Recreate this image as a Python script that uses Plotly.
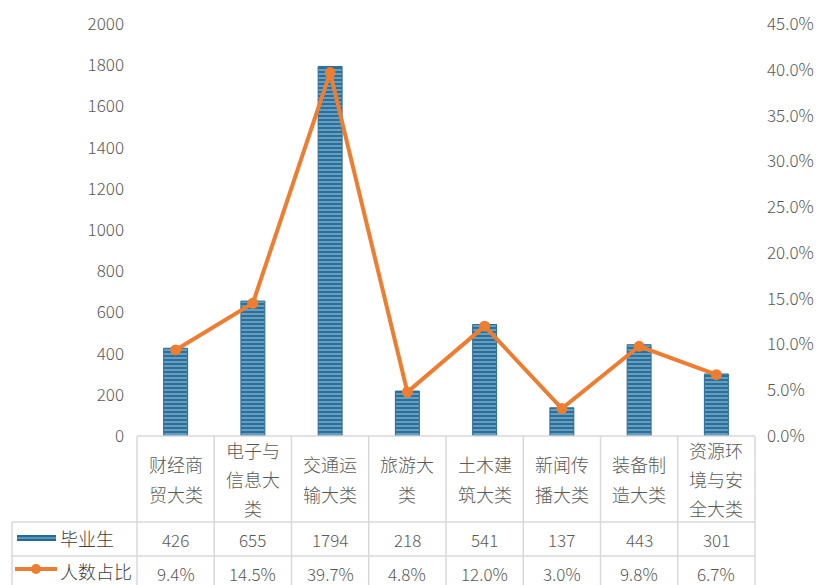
import plotly.graph_objects as go

categories = ["财经商贸大类", "电子与信息大类", "交通运输大类", "旅游大类",
              "土木建筑大类", "新闻传播大类", "装备制造大类", "资源环境与安全大类"]
category_lines = [["财经商", "贸大类"], ["电子与", "信息大", "类"], ["交通运", "输大类"],
                  ["旅游大", "类"], ["土木建", "筑大类"], ["新闻传", "播大类"],
                  ["装备制", "造大类"], ["资源环", "境与安", "全大类"]]
graduates = [426, 655, 1794, 218, 541, 137, 443, 301]
share = [0.094, 0.145, 0.397, 0.048, 0.120, 0.030, 0.098, 0.067]
share_labels = ["9.4%", "14.5%", "39.7%", "4.8%", "12.0%", "3.0%", "9.8%", "6.7%"]
series_names = ["毕业生", "人数占比"]

W, H = 816, 585
L, R, T, B = 137, 61, 24, 149
pw, ph = W - L - R, H - T - B

def py(ypix):
    return (H - B - ypix) / ph

def pxf(xpix):
    return (xpix - L) / pw

BLUE = "#256A94"
ORANGE = "#ED7D31"
GRID = "#D9D9D9"
TXT = "#595959"
FONT = "Noto Sans CJK SC, Noto Sans, sans-serif"
FW = 300

fig = go.Figure()
fig.add_trace(go.Bar(
    x=categories, y=graduates, name=series_names[0], width=0.31,
    marker=dict(color=BLUE, line=dict(color="#2A6C98", width=1),
                pattern=dict(shape="-", fgcolor="#A6D1EC", bgcolor=BLUE, size=4, solidity=0.55)),
    yaxis="y", showlegend=False))
fig.add_trace(go.Scatter(
    x=categories, y=share, name=series_names[1], mode="lines+markers",
    line=dict(color=ORANGE, width=4), marker=dict(color=ORANGE, size=11),
    yaxis="y2", showlegend=False))

n = len(categories)
shapes = []
row1_top, row2_top, bottom = py(522), py(556), py(H + 5)
left_edge = pxf(12)
shapes.append(dict(type="line", xref="paper", yref="paper", x0=0, x1=1, y0=0, y1=0,
                   line=dict(color=GRID, width=1.5)))
for yy in (row1_top, row2_top):
    shapes.append(dict(type="line", xref="paper", yref="paper", x0=left_edge, x1=1, y0=yy, y1=yy,
                       line=dict(color=GRID, width=1.5)))
for i in range(n + 1):
    xx = i / n
    shapes.append(dict(type="line", xref="paper", yref="paper", x0=xx, x1=xx, y0=0, y1=bottom,
                       line=dict(color=GRID, width=1.5)))
shapes.append(dict(type="line", xref="paper", yref="paper", x0=left_edge, x1=left_edge,
                   y0=row1_top, y1=bottom, line=dict(color=GRID, width=1.5)))

ky1 = py(538)
shapes.append(dict(type="rect", xref="paper", yref="paper", x0=pxf(17), x1=pxf(56),
                   y0=ky1 - 3 / ph, y1=ky1 + 3 / ph, fillcolor=BLUE, line=dict(width=0)))
shapes.append(dict(type="line", xref="paper", yref="paper", x0=pxf(17), x1=pxf(56),
                   y0=ky1, y1=ky1, line=dict(color="#8FC0E0", width=1)))
ky2 = py(569)
shapes.append(dict(type="line", xref="paper", yref="paper", x0=pxf(15), x1=pxf(57),
                   y0=ky2, y1=ky2, line=dict(color=ORANGE, width=4)))
shapes.append(dict(type="circle", xref="paper", yref="paper", x0=pxf(31), x1=pxf(41),
                   y0=ky2 - 5 / ph, y1=ky2 + 5 / ph, fillcolor=ORANGE, line=dict(width=0)))

annotations = []
for i, lines in enumerate(category_lines):
    k = len(lines)
    center = 479
    for j, txt in enumerate(lines):
        ypix = center + (j - (k - 1) / 2) * 29
        annotations.append(dict(x=categories[i], xref="x", y=py(ypix), yref="paper",
                                text=txt, showarrow=False, yanchor="middle", xanchor="center",
                                font=dict(size=18, color=TXT, family=FONT, weight=FW)))
    annotations.append(dict(x=categories[i], xref="x", y=py(539), yref="paper",
                            text=str(graduates[i]), showarrow=False, yanchor="middle",
                            font=dict(size=17, color=TXT, family=FONT, weight=FW)))
    annotations.append(dict(x=categories[i], xref="x", y=py(573), yref="paper",
                            text=share_labels[i], showarrow=False, yanchor="middle",
                            font=dict(size=17, color=TXT, family=FONT, weight=FW)))
annotations.append(dict(x=pxf(58), xref="paper", y=py(538), yref="paper", text=series_names[0],
                        showarrow=False, xanchor="left", yanchor="middle",
                        font=dict(size=18, color="#404040", family=FONT, weight=FW)))
annotations.append(dict(x=pxf(58), xref="paper", y=py(571), yref="paper", text=series_names[1],
                        showarrow=False, xanchor="left", yanchor="middle",
                        font=dict(size=18, color="#404040", family=FONT, weight=FW)))

fig.update_layout(
    width=W, height=H, margin=dict(l=L, r=R, t=T, b=B, autoexpand=False),
    paper_bgcolor="white", plot_bgcolor="white",
    font=dict(family=FONT, color=TXT),
    xaxis=dict(type="category", range=[-0.5, n - 0.5], showticklabels=False, showgrid=False,
               showline=False, zeroline=False, ticks=""),
    yaxis=dict(range=[0, 2000], dtick=200, showgrid=False, zeroline=False, showline=False,
               tickfont=dict(size=17, color=TXT, family=FONT, weight=FW), ticklabelstandoff=12),
    yaxis2=dict(range=[0, 0.45], dtick=0.05, tickformat=".1%", overlaying="y", side="right",
                showgrid=False, zeroline=False, showline=False,
                tickfont=dict(size=17, color=TXT, family=FONT, weight=FW), ticklabelstandoff=11),
    shapes=shapes, annotations=annotations, bargap=0.69,
)
fig.write_html("out.html", config={"displayModeBar": False},
               post_script="document.body.style.margin='0';")
